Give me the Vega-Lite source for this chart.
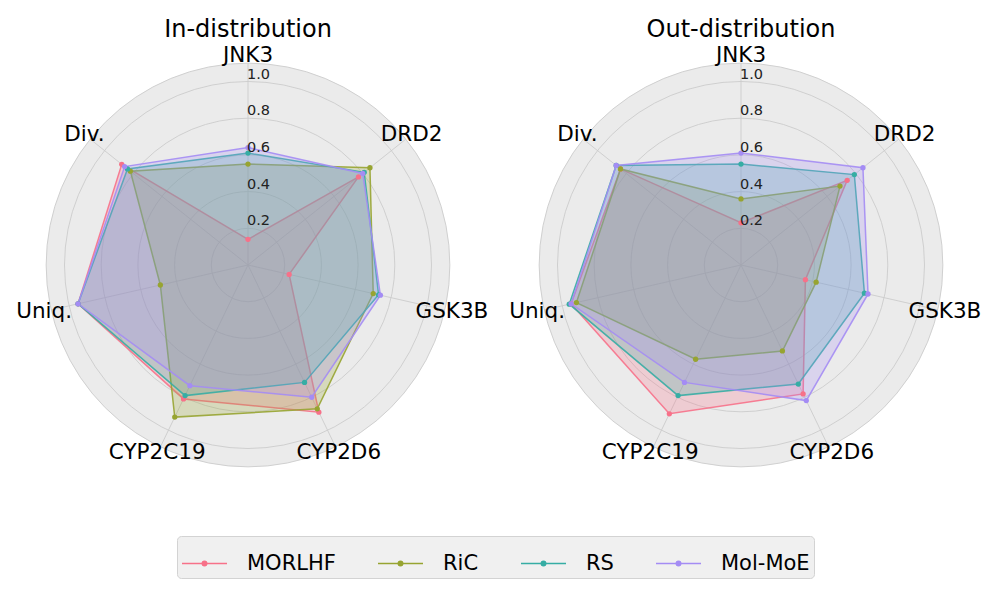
{
  "$schema": "https://vega.github.io/schema/vega-lite/v6.json",
  "padding": {"left": 5, "right": 5, "top": 18, "bottom": 5},
  "background": "white",
  "config": {
    "view": {"stroke": null},
    "font": "DejaVu Sans",
    "concat": {"spacing": 7},
    "legend": {
      "orient": "none",
      "legendX": 172,
      "legendY": 494,
      "direction": "horizontal",
      "columns": 4,
      "gridAlign": "none",
      "columnPadding": 39,
      "padding": 4,
      "fillColor": "#f0f0f0",
      "strokeColor": "#d3d3d3",
      "cornerRadius": 4,
      "labelFontSize": 21,
      "labelFont": "DejaVu Sans",
      "labelColor": "#000000",
      "labelOffset": 19,
      "labelLimit": 0,
      "symbolType": "M-1,0H1M0.1,0A0.1,0.1,0,1,1,-0.1,0A0.1,0.1,0,1,1,0.1,0",
      "symbolSize": 2025,
      "symbolStrokeWidth": 1.5
    }
  },
  "datasets": {
    "axes": [
      {"metric": "JNK3"},
      {"metric": "DRD2"},
      {"metric": "GSK3B"},
      {"metric": "CYP2D6"},
      {"metric": "CYP2C19"},
      {"metric": "Uniq."},
      {"metric": "Div."}
    ],
    "rings": [
      {"r": 0.2, "label": "0.2"},
      {"r": 0.4, "label": "0.4"},
      {"r": 0.6, "label": "0.6"},
      {"r": 0.8, "label": "0.8"},
      {"r": 1.0, "label": "1.0"}
    ],
    "disc": [{"r": 1.1}],
    "scores": [
      {"panel": "In-distribution", "method": "MORLHF", "metric": "JNK3", "value": 0.14},
      {"panel": "In-distribution", "method": "MORLHF", "metric": "DRD2", "value": 0.77},
      {"panel": "In-distribution", "method": "MORLHF", "metric": "GSK3B", "value": 0.23},
      {"panel": "In-distribution", "method": "MORLHF", "metric": "CYP2D6", "value": 0.89},
      {"panel": "In-distribution", "method": "MORLHF", "metric": "CYP2C19", "value": 0.81},
      {"panel": "In-distribution", "method": "MORLHF", "metric": "Uniq.", "value": 0.95},
      {"panel": "In-distribution", "method": "MORLHF", "metric": "Div.", "value": 0.88},
      {"panel": "In-distribution", "method": "RiC", "metric": "JNK3", "value": 0.55},
      {"panel": "In-distribution", "method": "RiC", "metric": "DRD2", "value": 0.85},
      {"panel": "In-distribution", "method": "RiC", "metric": "GSK3B", "value": 0.70},
      {"panel": "In-distribution", "method": "RiC", "metric": "CYP2D6", "value": 0.87},
      {"panel": "In-distribution", "method": "RiC", "metric": "CYP2C19", "value": 0.92},
      {"panel": "In-distribution", "method": "RiC", "metric": "Uniq.", "value": 0.49},
      {"panel": "In-distribution", "method": "RiC", "metric": "Div.", "value": 0.82},
      {"panel": "In-distribution", "method": "RS", "metric": "JNK3", "value": 0.61},
      {"panel": "In-distribution", "method": "RS", "metric": "DRD2", "value": 0.81},
      {"panel": "In-distribution", "method": "RS", "metric": "GSK3B", "value": 0.73},
      {"panel": "In-distribution", "method": "RS", "metric": "CYP2D6", "value": 0.71},
      {"panel": "In-distribution", "method": "RS", "metric": "CYP2C19", "value": 0.79},
      {"panel": "In-distribution", "method": "RS", "metric": "Uniq.", "value": 0.95},
      {"panel": "In-distribution", "method": "RS", "metric": "Div.", "value": 0.84},
      {"panel": "In-distribution", "method": "Mol-MoE", "metric": "JNK3", "value": 0.64},
      {"panel": "In-distribution", "method": "Mol-MoE", "metric": "DRD2", "value": 0.80},
      {"panel": "In-distribution", "method": "Mol-MoE", "metric": "GSK3B", "value": 0.74},
      {"panel": "In-distribution", "method": "Mol-MoE", "metric": "CYP2D6", "value": 0.80},
      {"panel": "In-distribution", "method": "Mol-MoE", "metric": "CYP2C19", "value": 0.73},
      {"panel": "In-distribution", "method": "Mol-MoE", "metric": "Uniq.", "value": 0.95},
      {"panel": "In-distribution", "method": "Mol-MoE", "metric": "Div.", "value": 0.86},
      {"panel": "Out-distribution", "method": "MORLHF", "metric": "JNK3", "value": 0.23},
      {"panel": "Out-distribution", "method": "MORLHF", "metric": "DRD2", "value": 0.74},
      {"panel": "Out-distribution", "method": "MORLHF", "metric": "GSK3B", "value": 0.36},
      {"panel": "Out-distribution", "method": "MORLHF", "metric": "CYP2D6", "value": 0.78},
      {"panel": "Out-distribution", "method": "MORLHF", "metric": "CYP2C19", "value": 0.90},
      {"panel": "Out-distribution", "method": "MORLHF", "metric": "Uniq.", "value": 0.95},
      {"panel": "Out-distribution", "method": "MORLHF", "metric": "Div.", "value": 0.84},
      {"panel": "Out-distribution", "method": "RiC", "metric": "JNK3", "value": 0.36},
      {"panel": "Out-distribution", "method": "RiC", "metric": "DRD2", "value": 0.69},
      {"panel": "Out-distribution", "method": "RiC", "metric": "GSK3B", "value": 0.42},
      {"panel": "Out-distribution", "method": "RiC", "metric": "CYP2D6", "value": 0.52},
      {"panel": "Out-distribution", "method": "RiC", "metric": "CYP2C19", "value": 0.57},
      {"panel": "Out-distribution", "method": "RiC", "metric": "Uniq.", "value": 0.92},
      {"panel": "Out-distribution", "method": "RiC", "metric": "Div.", "value": 0.84},
      {"panel": "Out-distribution", "method": "RS", "metric": "JNK3", "value": 0.55},
      {"panel": "Out-distribution", "method": "RS", "metric": "DRD2", "value": 0.79},
      {"panel": "Out-distribution", "method": "RS", "metric": "GSK3B", "value": 0.69},
      {"panel": "Out-distribution", "method": "RS", "metric": "CYP2D6", "value": 0.72},
      {"panel": "Out-distribution", "method": "RS", "metric": "CYP2C19", "value": 0.79},
      {"panel": "Out-distribution", "method": "RS", "metric": "Uniq.", "value": 0.96},
      {"panel": "Out-distribution", "method": "RS", "metric": "Div.", "value": 0.87},
      {"panel": "Out-distribution", "method": "Mol-MoE", "metric": "JNK3", "value": 0.61},
      {"panel": "Out-distribution", "method": "Mol-MoE", "metric": "DRD2", "value": 0.85},
      {"panel": "Out-distribution", "method": "Mol-MoE", "metric": "GSK3B", "value": 0.71},
      {"panel": "Out-distribution", "method": "Mol-MoE", "metric": "CYP2D6", "value": 0.82},
      {"panel": "Out-distribution", "method": "Mol-MoE", "metric": "CYP2C19", "value": 0.71},
      {"panel": "Out-distribution", "method": "Mol-MoE", "metric": "Uniq.", "value": 0.95},
      {"panel": "Out-distribution", "method": "Mol-MoE", "metric": "Div.", "value": 0.87}
    ]
  },
  "hconcat": [
    {
      "title": {"text": "In-distribution", "fontSize": 24, "fontWeight": "normal", "font": "DejaVu Sans", "color": "#000000", "anchor": "middle", "offset": 0},
      "width": 486,
      "height": 446,
      "layer": [
        {
          "data": {"name": "disc"},
          "transform": [{"calculate": "0", "as": "o"}],
          "mark": {"type": "point", "shape": "circle", "filled": true, "fill": "#ebebeb", "stroke": "#d0d0d0", "strokeWidth": 1, "opacity": 1},
          "encoding": {
            "x": {"field": "o", "type": "quantitative", "scale": {"domain": [-1.3243, 1.3243], "nice": false, "zero": false}, "axis": null},
            "y": {"field": "o", "type": "quantitative", "scale": {"domain": [-1.2153, 1.2153], "nice": false, "zero": false}, "axis": null},
            "size": {"field": "r", "type": "quantitative", "scale": {"type": "pow", "exponent": 2, "domain": [0, 1.1], "range": [0, 162977]}, "legend": null}
          }
        },
        {
          "data": {"name": "rings"},
          "transform": [{"calculate": "0", "as": "o"}],
          "mark": {"type": "point", "shape": "circle", "filled": false, "stroke": "#cccccc", "strokeWidth": 0.9, "opacity": 1},
          "encoding": {
            "x": {"field": "o", "type": "quantitative", "scale": {"domain": [-1.3243, 1.3243], "nice": false, "zero": false}, "axis": null},
            "y": {"field": "o", "type": "quantitative", "scale": {"domain": [-1.2153, 1.2153], "nice": false, "zero": false}, "axis": null},
            "size": {"field": "r", "type": "quantitative", "scale": {"type": "pow", "exponent": 2, "domain": [0, 1.1], "range": [0, 162977]}, "legend": null}
          }
        },
        {
          "data": {"name": "axes"},
          "transform": [
            {"calculate": "indexof(['JNK3','DRD2','GSK3B','CYP2D6','CYP2C19','Uniq.','Div.'], datum.metric) * 2 * PI / 7", "as": "ang"},
            {"calculate": "0", "as": "o"},
            {"calculate": "1.1 * sin(datum.ang)", "as": "ex"},
            {"calculate": "1.1 * cos(datum.ang)", "as": "ey"}
          ],
          "mark": {"type": "rule", "stroke": "#cccccc", "strokeWidth": 0.9},
          "encoding": {
            "x": {"field": "o", "type": "quantitative", "scale": {"domain": [-1.3243, 1.3243], "nice": false, "zero": false}, "axis": null},
            "x2": {"field": "ex"},
            "y": {"field": "o", "type": "quantitative", "scale": {"domain": [-1.2153, 1.2153], "nice": false, "zero": false}, "axis": null},
            "y2": {"field": "ey"}
          }
        },
        {
          "data": {"name": "scores"},
          "transform": [
            {"filter": "datum.panel === 'In-distribution'"},
            {"calculate": "indexof(['JNK3','DRD2','GSK3B','CYP2D6','CYP2C19','Uniq.','Div.'], datum.metric)", "as": "k"},
            {"calculate": "datum.value * sin(datum.k * 2 * PI / 7)", "as": "px"},
            {"calculate": "datum.value * cos(datum.k * 2 * PI / 7)", "as": "py"}
          ],
          "mark": {"type": "line", "interpolate": "linear-closed", "strokeWidth": 1.5, "strokeOpacity": 0.9, "fillOpacity": 0.25},
          "encoding": {
            "x": {"field": "px", "type": "quantitative", "scale": {"domain": [-1.3243, 1.3243], "nice": false, "zero": false}, "axis": null},
            "y": {"field": "py", "type": "quantitative", "scale": {"domain": [-1.2153, 1.2153], "nice": false, "zero": false}, "axis": null},
            "order": {"field": "k", "type": "quantitative"},
            "color": {"field": "method", "type": "nominal", "scale": {"domain": ["MORLHF", "RiC", "RS", "Mol-MoE"], "range": ["#f77189", "#97a431", "#36ada4", "#a48cf4"]}, "legend": {"title": null}},
            "fill": {"field": "method", "type": "nominal", "scale": {"domain": ["MORLHF", "RiC", "RS", "Mol-MoE"], "range": ["#f77189", "#97a431", "#36ada4", "#a48cf4"]}, "legend": null}
          }
        },
        {
          "data": {"name": "scores"},
          "transform": [
            {"filter": "datum.panel === 'In-distribution'"},
            {"calculate": "indexof(['JNK3','DRD2','GSK3B','CYP2D6','CYP2C19','Uniq.','Div.'], datum.metric)", "as": "k"},
            {"calculate": "datum.value * sin(datum.k * 2 * PI / 7)", "as": "px"},
            {"calculate": "datum.value * cos(datum.k * 2 * PI / 7)", "as": "py"}
          ],
          "mark": {"type": "point", "filled": true, "size": 28, "opacity": 1},
          "encoding": {
            "x": {"field": "px", "type": "quantitative", "scale": {"domain": [-1.3243, 1.3243], "nice": false, "zero": false}, "axis": null},
            "y": {"field": "py", "type": "quantitative", "scale": {"domain": [-1.2153, 1.2153], "nice": false, "zero": false}, "axis": null},
            "color": {"field": "method", "type": "nominal", "scale": {"domain": ["MORLHF", "RiC", "RS", "Mol-MoE"], "range": ["#f77189", "#97a431", "#36ada4", "#a48cf4"]}, "legend": {"title": null}}
          }
        },
        {
          "data": {"name": "rings"},
          "transform": [{"calculate": "0", "as": "o"}],
          "mark": {"type": "text", "align": "left", "baseline": "alphabetic", "dy": -3, "dx": -1, "fontSize": 14.5, "font": "DejaVu Sans", "color": "#222222"},
          "encoding": {
            "x": {"field": "o", "type": "quantitative", "scale": {"domain": [-1.3243, 1.3243], "nice": false, "zero": false}, "axis": null},
            "y": {"field": "r", "type": "quantitative", "scale": {"domain": [-1.2153, 1.2153], "nice": false, "zero": false}, "axis": null},
            "text": {"field": "label", "type": "nominal"}
          }
        },
        {
          "data": {"name": "axes"},
          "transform": [
            {"calculate": "indexof(['JNK3','DRD2','GSK3B','CYP2D6','CYP2C19','Uniq.','Div.'], datum.metric) * 2 * PI / 7", "as": "ang"},
            {"calculate": "1.14 * sin(datum.ang)", "as": "lx"},
            {"calculate": "1.14 * cos(datum.ang)", "as": "ly"}
          ],
          "mark": {"type": "text", "align": "center", "baseline": "middle", "fontSize": 21.5, "font": "DejaVu Sans", "color": "#000000"},
          "encoding": {
            "x": {"field": "lx", "type": "quantitative", "scale": {"domain": [-1.3243, 1.3243], "nice": false, "zero": false}, "axis": null},
            "y": {"field": "ly", "type": "quantitative", "scale": {"domain": [-1.2153, 1.2153], "nice": false, "zero": false}, "axis": null},
            "text": {"field": "metric", "type": "nominal"}
          }
        }
      ]
    },
    {
      "title": {"text": "Out-distribution", "fontSize": 24, "fontWeight": "normal", "font": "DejaVu Sans", "color": "#000000", "anchor": "middle", "offset": 0},
      "width": 486,
      "height": 446,
      "layer": [
        {
          "data": {"name": "disc"},
          "transform": [{"calculate": "0", "as": "o"}],
          "mark": {"type": "point", "shape": "circle", "filled": true, "fill": "#ebebeb", "stroke": "#d0d0d0", "strokeWidth": 1, "opacity": 1},
          "encoding": {
            "x": {"field": "o", "type": "quantitative", "scale": {"domain": [-1.3243, 1.3243], "nice": false, "zero": false}, "axis": null},
            "y": {"field": "o", "type": "quantitative", "scale": {"domain": [-1.2153, 1.2153], "nice": false, "zero": false}, "axis": null},
            "size": {"field": "r", "type": "quantitative", "scale": {"type": "pow", "exponent": 2, "domain": [0, 1.1], "range": [0, 162977]}, "legend": null}
          }
        },
        {
          "data": {"name": "rings"},
          "transform": [{"calculate": "0", "as": "o"}],
          "mark": {"type": "point", "shape": "circle", "filled": false, "stroke": "#cccccc", "strokeWidth": 0.9, "opacity": 1},
          "encoding": {
            "x": {"field": "o", "type": "quantitative", "scale": {"domain": [-1.3243, 1.3243], "nice": false, "zero": false}, "axis": null},
            "y": {"field": "o", "type": "quantitative", "scale": {"domain": [-1.2153, 1.2153], "nice": false, "zero": false}, "axis": null},
            "size": {"field": "r", "type": "quantitative", "scale": {"type": "pow", "exponent": 2, "domain": [0, 1.1], "range": [0, 162977]}, "legend": null}
          }
        },
        {
          "data": {"name": "axes"},
          "transform": [
            {"calculate": "indexof(['JNK3','DRD2','GSK3B','CYP2D6','CYP2C19','Uniq.','Div.'], datum.metric) * 2 * PI / 7", "as": "ang"},
            {"calculate": "0", "as": "o"},
            {"calculate": "1.1 * sin(datum.ang)", "as": "ex"},
            {"calculate": "1.1 * cos(datum.ang)", "as": "ey"}
          ],
          "mark": {"type": "rule", "stroke": "#cccccc", "strokeWidth": 0.9},
          "encoding": {
            "x": {"field": "o", "type": "quantitative", "scale": {"domain": [-1.3243, 1.3243], "nice": false, "zero": false}, "axis": null},
            "x2": {"field": "ex"},
            "y": {"field": "o", "type": "quantitative", "scale": {"domain": [-1.2153, 1.2153], "nice": false, "zero": false}, "axis": null},
            "y2": {"field": "ey"}
          }
        },
        {
          "data": {"name": "scores"},
          "transform": [
            {"filter": "datum.panel === 'Out-distribution'"},
            {"calculate": "indexof(['JNK3','DRD2','GSK3B','CYP2D6','CYP2C19','Uniq.','Div.'], datum.metric)", "as": "k"},
            {"calculate": "datum.value * sin(datum.k * 2 * PI / 7)", "as": "px"},
            {"calculate": "datum.value * cos(datum.k * 2 * PI / 7)", "as": "py"}
          ],
          "mark": {"type": "line", "interpolate": "linear-closed", "strokeWidth": 1.5, "strokeOpacity": 0.9, "fillOpacity": 0.25},
          "encoding": {
            "x": {"field": "px", "type": "quantitative", "scale": {"domain": [-1.3243, 1.3243], "nice": false, "zero": false}, "axis": null},
            "y": {"field": "py", "type": "quantitative", "scale": {"domain": [-1.2153, 1.2153], "nice": false, "zero": false}, "axis": null},
            "order": {"field": "k", "type": "quantitative"},
            "color": {"field": "method", "type": "nominal", "scale": {"domain": ["MORLHF", "RiC", "RS", "Mol-MoE"], "range": ["#f77189", "#97a431", "#36ada4", "#a48cf4"]}, "legend": {"title": null}},
            "fill": {"field": "method", "type": "nominal", "scale": {"domain": ["MORLHF", "RiC", "RS", "Mol-MoE"], "range": ["#f77189", "#97a431", "#36ada4", "#a48cf4"]}, "legend": null}
          }
        },
        {
          "data": {"name": "scores"},
          "transform": [
            {"filter": "datum.panel === 'Out-distribution'"},
            {"calculate": "indexof(['JNK3','DRD2','GSK3B','CYP2D6','CYP2C19','Uniq.','Div.'], datum.metric)", "as": "k"},
            {"calculate": "datum.value * sin(datum.k * 2 * PI / 7)", "as": "px"},
            {"calculate": "datum.value * cos(datum.k * 2 * PI / 7)", "as": "py"}
          ],
          "mark": {"type": "point", "filled": true, "size": 28, "opacity": 1},
          "encoding": {
            "x": {"field": "px", "type": "quantitative", "scale": {"domain": [-1.3243, 1.3243], "nice": false, "zero": false}, "axis": null},
            "y": {"field": "py", "type": "quantitative", "scale": {"domain": [-1.2153, 1.2153], "nice": false, "zero": false}, "axis": null},
            "color": {"field": "method", "type": "nominal", "scale": {"domain": ["MORLHF", "RiC", "RS", "Mol-MoE"], "range": ["#f77189", "#97a431", "#36ada4", "#a48cf4"]}, "legend": {"title": null}}
          }
        },
        {
          "data": {"name": "rings"},
          "transform": [{"calculate": "0", "as": "o"}],
          "mark": {"type": "text", "align": "left", "baseline": "alphabetic", "dy": -3, "dx": -1, "fontSize": 14.5, "font": "DejaVu Sans", "color": "#222222"},
          "encoding": {
            "x": {"field": "o", "type": "quantitative", "scale": {"domain": [-1.3243, 1.3243], "nice": false, "zero": false}, "axis": null},
            "y": {"field": "r", "type": "quantitative", "scale": {"domain": [-1.2153, 1.2153], "nice": false, "zero": false}, "axis": null},
            "text": {"field": "label", "type": "nominal"}
          }
        },
        {
          "data": {"name": "axes"},
          "transform": [
            {"calculate": "indexof(['JNK3','DRD2','GSK3B','CYP2D6','CYP2C19','Uniq.','Div.'], datum.metric) * 2 * PI / 7", "as": "ang"},
            {"calculate": "1.14 * sin(datum.ang)", "as": "lx"},
            {"calculate": "1.14 * cos(datum.ang)", "as": "ly"}
          ],
          "mark": {"type": "text", "align": "center", "baseline": "middle", "fontSize": 21.5, "font": "DejaVu Sans", "color": "#000000"},
          "encoding": {
            "x": {"field": "lx", "type": "quantitative", "scale": {"domain": [-1.3243, 1.3243], "nice": false, "zero": false}, "axis": null},
            "y": {"field": "ly", "type": "quantitative", "scale": {"domain": [-1.2153, 1.2153], "nice": false, "zero": false}, "axis": null},
            "text": {"field": "metric", "type": "nominal"}
          }
        }
      ]
    }
  ]
}
